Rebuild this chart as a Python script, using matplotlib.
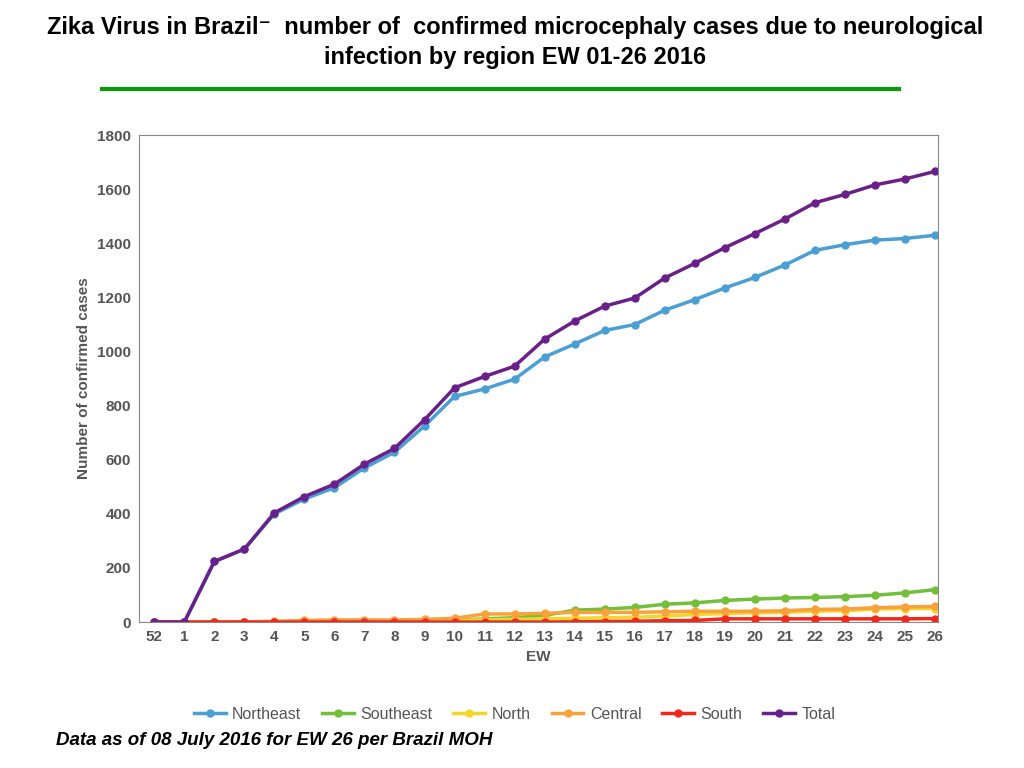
import matplotlib.pyplot as plt
import numpy as np

plt.rcParams['font.family'] = ['Liberation Sans', 'DejaVu Sans']

weeks = ['52'] + [str(i) for i in range(1, 27)]
northeast = [0, 0, 224, 270, 400, 455, 497, 570, 628, 725, 834, 862, 898, 980, 1028, 1078, 1100,
             1153, 1192, 1235, 1274, 1320, 1374, 1395, 1412, 1418, 1430]
southeast = [0, 0, 0, 0, 1, 3, 4, 4, 4, 5, 6, 12, 16, 25, 44, 48, 54, 66, 71, 80, 85, 89, 91, 94, 99, 108, 120]
north = [0, 0, 0, 0, 1, 2, 3, 4, 4, 5, 6, 8, 10, 12, 14, 16, 18, 22, 28, 32, 34, 36, 40, 42, 48, 50, 50]
central = [0, 0, 0, 1, 3, 6, 8, 8, 8, 10, 14, 30, 30, 32, 36, 36, 36, 38, 40, 40, 40, 42, 47, 48, 53, 56, 58]
south = [0, 0, 0, 0, 0, 0, 0, 0, 0, 0, 0, 0, 0, 0, 1, 2, 3, 5, 6, 12, 12, 12, 12, 12, 12, 12, 13]
total = [0, 0, 224, 270, 404, 464, 510, 584, 642, 748, 866, 908, 946, 1046, 1113, 1168, 1198,
         1272, 1326, 1384, 1436, 1490, 1550, 1581, 1616, 1638, 1666]

series = [('Northeast', northeast, '#4a9fd4'), ('Southeast', southeast, '#72bf3a'),
          ('North', north, '#f5d52a'), ('Central', central, '#f9a13a'),
          ('South', south, '#f2271c'), ('Total', total, '#6a1f8a')]

fig = plt.figure(figsize=(10.24, 7.68), dpi=100)
fig.text(0.503, 0.945, 'Zika Virus in Brazil\u207b  number of  confirmed microcephaly cases due to neurological\ninfection by region EW 01-26 2016',
         ha='center', va='center', fontsize=17, fontweight='bold', linespacing=1.4)
fig.add_artist(plt.Line2D([0.1, 0.878], [0.884, 0.884], color='#0a9a0a', lw=3))

ax = fig.add_axes([0.136, 0.19, 0.78, 0.634])
x = np.arange(len(weeks))
for name, vals, col in series:
    ax.plot(x, vals, color=col, lw=2.5, marker='o', ms=5, label=name)
ax.set_xlim(-0.5, len(weeks) - 0.9)
ax.set_ylim(0, 1800)
ax.set_yticks(range(0, 1801, 200))
ax.set_xticks(x)
ax.set_xticklabels(weeks)
for s in ax.spines.values():
    s.set_color('#888888')
ax.tick_params(colors='#555555', labelsize=11, length=0, pad=6)
for t in ax.get_xticklabels() + ax.get_yticklabels():
    t.set_fontweight('bold')
ax.set_xlabel('EW', fontsize=11, fontweight='bold', color='#555555')
ax.set_ylabel('Number of confirmed cases', fontsize=11, fontweight='bold', color='#555555')
ax.legend(loc='upper center', bbox_to_anchor=(0.47, -0.145), ncol=6, frameon=False,
          fontsize=11.5, handlelength=2.0, handletextpad=0.4, columnspacing=1.3, labelcolor='#555555')
fig.text(0.055, 0.03, 'Data as of 08 July 2016 for EW 26 per Brazil MOH', fontsize=13.5,
         fontweight='bold', style='italic')
fig.savefig('out.png')
